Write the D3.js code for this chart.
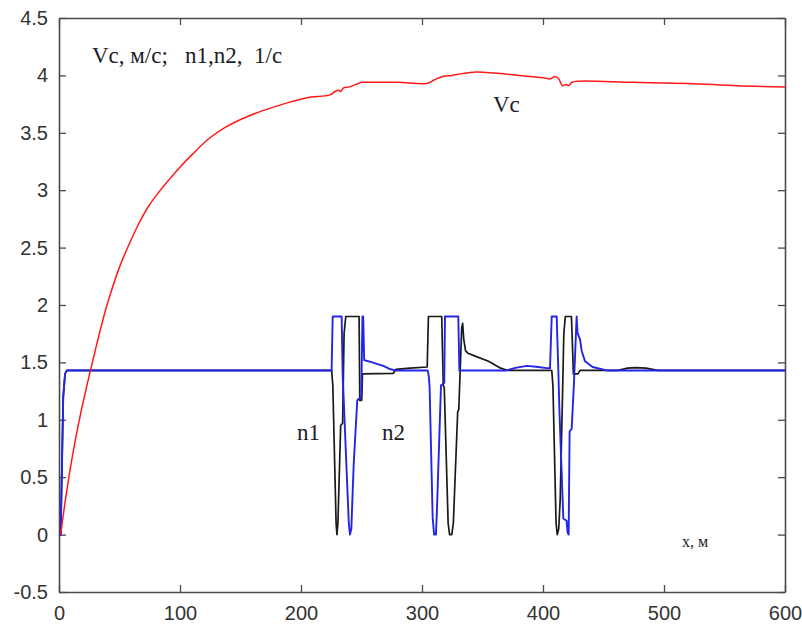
<!DOCTYPE html>
<html>
<head>
<meta charset="utf-8">
<script src="https://cdn.jsdelivr.net/npm/d3@7"></script>
<style>
  body { margin: 0; background: #fff; }
  svg { display: block; }
</style>
</head>
<body>
<svg id="chart" width="802" height="632"></svg>
<script>
"use strict";

// Vc, m/s along x, m
const vcX = [1.4, 5, 11, 18, 26, 31, 36, 42, 50, 58, 66, 74, 83, 90, 99, 110, 124, 137, 151, 165, 179, 190, 199, 207, 224, 228, 231, 233, 235, 240, 245, 250, 254, 280, 304, 310, 317, 325, 330, 345, 360, 380, 400, 406, 410, 413, 416, 419, 421, 424, 430, 474, 520, 560, 600];
const vcY = [0, 0.28, 0.68, 1.06, 1.43, 1.65, 1.86, 2.08, 2.33, 2.53, 2.71, 2.86, 2.99, 3.08, 3.19, 3.31, 3.45, 3.545, 3.62, 3.68, 3.73, 3.765, 3.79, 3.81, 3.83, 3.86, 3.87, 3.86, 3.89, 3.90, 3.92, 3.94, 3.94, 3.94, 3.93, 3.96, 3.99, 4.00, 4.01, 4.03, 4.02, 4.00, 3.98, 3.97, 3.99, 3.97, 3.91, 3.92, 3.91, 3.94, 3.95, 3.94, 3.93, 3.91, 3.90];

// n1, 1/s (black)
const n1X = [0, 1.4, 3.5, 5, 6.5, 225.3, 226.3, 229, 229.7, 230.5, 232.8, 234.4, 235.6, 237, 248, 248.6, 250.2, 250.8, 276.3, 278.5, 290, 304.3, 305.3, 316.3, 317.6, 318.4, 321.6, 322.8, 324.6, 325.9, 329.5, 330.4, 332.8, 333.6, 334.5, 336, 338, 345, 355, 365, 371, 407.2, 408.2, 410.8, 411.8, 413, 414.2, 416.3, 417.2, 418.5, 423.5, 424.5, 425.1, 429, 430.5, 462, 470, 477, 485, 495, 600];
const n1Y = [0, 0, 1.2, 1.40, 1.43, 1.43, 1.30, 0.1, 0, 0.1, 0.95, 0.97, 1.75, 1.9, 1.9, 1.17, 1.17, 1.40, 1.405, 1.44, 1.45, 1.46, 1.9, 1.9, 1.30, 1.28, 0.1, 0, 0, 0.1, 1.07, 1.09, 1.8, 1.84, 1.7, 1.6, 1.58, 1.55, 1.51, 1.45, 1.43, 1.43, 1.30, 0.1, 0, 0.05, 0.3, 1.3, 1.75, 1.9, 1.9, 1.6, 1.40, 1.40, 1.43, 1.43, 1.45, 1.455, 1.45, 1.43, 1.43];

// n2, 1/s (blue)
const n2X = [0, 1.4, 3.5, 5, 6.5, 225.3, 226.2, 233.6, 234.4, 235.2, 239.5, 240.5, 241.6, 243.5, 246.5, 249.8, 250.8, 251.4, 252.2, 257, 262, 268, 274, 278, 304.7, 305.6, 306.3, 308.8, 310, 311.5, 312.3, 315.7, 318.4, 319, 330, 330.9, 370, 378, 387, 396, 403, 405.8, 407.2, 411.3, 412.7, 413.5, 416.8, 419.5, 420.3, 421.2, 422, 423.7, 425.5, 427.8, 428.5, 430.6, 432, 434.7, 441, 452.6, 600];
const n2Y = [0, 0, 1.2, 1.40, 1.43, 1.43, 1.9, 1.9, 1.40, 1.20, 0.1, 0, 0.05, 0.6, 1.17, 1.2, 1.9, 1.9, 1.52, 1.506, 1.49, 1.47, 1.44, 1.43, 1.43, 1.38, 1.28, 0.15, 0, 0, 0.2, 1.30, 1.32, 1.9, 1.9, 1.43, 1.43, 1.455, 1.47, 1.46, 1.45, 1.45, 1.9, 1.9, 1.42, 1.1, 0.14, 0.12, 0.02, 0, 0.9, 0.92, 1.3, 1.9, 1.76, 1.70, 1.6, 1.51, 1.46, 1.43, 1.43];

const xTicks = [0, 100, 200, 300, 400, 500, 600];
const yTicks = [-0.5, 0, 0.5, 1, 1.5, 2, 2.5, 3, 3.5, 4, 4.5];

const svg = d3.select('#chart');
const plotLeft = 59, plotRight = 785, plotTop = 18, plotBottom = 592;

const x = d3.scaleLinear().domain([0, 600]).range([plotLeft, plotRight]);
const y = d3.scaleLinear().domain([-0.5, 4.5]).range([plotBottom, plotTop]);

const axisColor = '#4a4a4a';
const labelFont = '"Liberation Sans", Arial, sans-serif';
const serif = '"Liberation Serif", "Times New Roman", serif';

function styleAxis(g) {
  g.select('.domain').attr('stroke', axisColor).attr('stroke-width', 1.6);
  g.selectAll('.tick line').attr('stroke', axisColor).attr('stroke-width', 1.3);
  g.selectAll('.tick text')
    .attr('fill', '#333')
    .style('font-family', labelFont)
    .style('font-size', '20px');
}

svg.append('g')
  .attr('transform', `translate(0,${plotBottom})`)
  .call(d3.axisBottom(x).tickValues(xTicks).tickFormat(d3.format('d'))
    .tickSizeInner(-7).tickSizeOuter(0).tickPadding(14))
  .call(styleAxis);

svg.append('g')
  .attr('transform', `translate(${plotLeft},0)`)
  .call(d3.axisLeft(y).tickValues(yTicks).tickFormat((d) => String(d))
    .tickSizeInner(-7).tickSizeOuter(0).tickPadding(11))
  .call(styleAxis);

svg.append('g')
  .attr('transform', `translate(0,${plotTop})`)
  .call(d3.axisTop(x).tickValues(xTicks).tickFormat('')
    .tickSizeInner(-7).tickSizeOuter(0))
  .call(styleAxis);

svg.append('g')
  .attr('transform', `translate(${plotRight},0)`)
  .call(d3.axisRight(y).tickValues(yTicks).tickFormat('')
    .tickSizeInner(-7).tickSizeOuter(0))
  .call(styleAxis);

const line = d3.line()
  .x((d) => x(d[0]))
  .y((d) => y(d[1]));

const plot = svg.append('g');

plot.append('path')
  .datum(d3.zip(n1X, n1Y))
  .attr('d', line)
  .attr('fill', 'none')
  .attr('stroke', '#1a1a1a')
  .attr('stroke-width', 1.7)
  .attr('stroke-linejoin', 'round');

plot.append('path')
  .datum(d3.zip(n2X, n2Y))
  .attr('d', line)
  .attr('fill', 'none')
  .attr('stroke', '#2424e6')
  .attr('stroke-width', 1.9)
  .attr('stroke-linejoin', 'round');

let vcLine = d3.line()
  .x((d) => x(d[0]))
  .y((d) => y(d[1]))
  .curve(d3.curveCatmullRom.alpha(0.5));

plot.append('path')
  .datum(d3.zip(vcX, vcY))
  .attr('d', vcLine)
  .attr('fill', 'none')
  .attr('stroke', '#ff1a1a')
  .attr('stroke-width', 1.5);

// annotations
const notes = [
  { text: 'Vc, м/с;   n1,n2,  1/с', x: 92, y: 63, size: 23 },
  { text: 'Vc', x: 493, y: 112, size: 23 },
  { text: 'n1', x: 297, y: 440, size: 23 },
  { text: 'n2', x: 382, y: 440, size: 23 },
  { text: 'x, м', x: 682, y: 547, size: 16 }
];

svg.append('g').selectAll('text')
  .data(notes)
  .join('text')
  .attr('x', (d) => d.x)
  .attr('y', (d) => d.y)
  .attr('fill', '#1c1c28')
  .style('font-family', serif)
  .style('font-size', (d) => d.size + 'px')
  .style('white-space', 'pre')
  .text((d) => d.text);
</script>
</body>
</html>
